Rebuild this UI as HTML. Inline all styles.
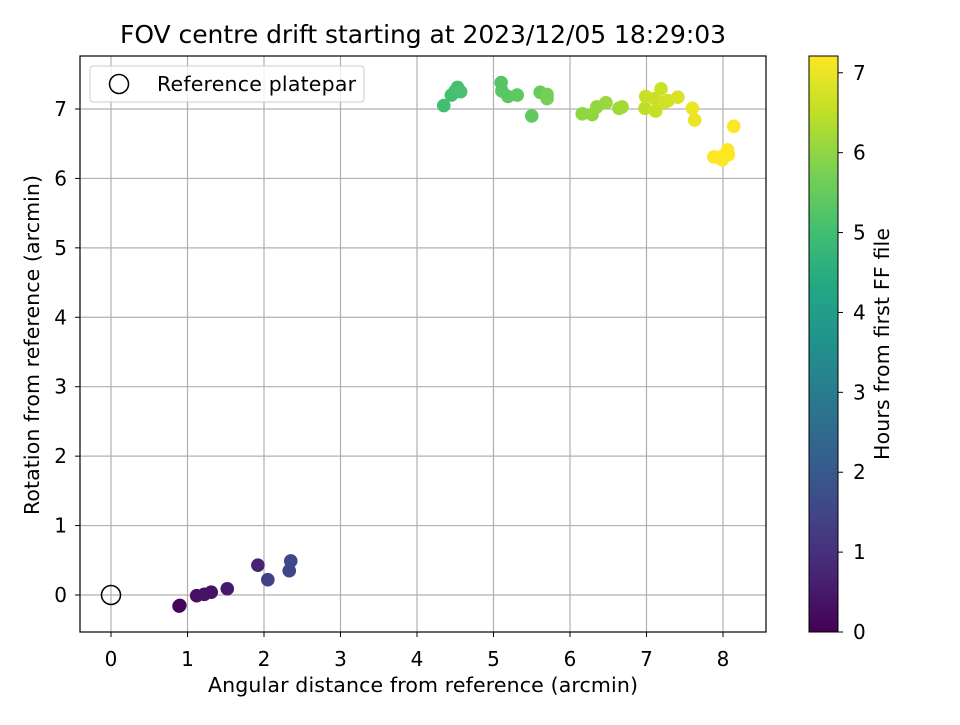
<!DOCTYPE html>
<html><head><meta charset="utf-8"><style>
body{margin:0;background:#fff;}
svg text{font-family:"DejaVu Sans","Liberation Sans",sans-serif;fill:#000;}
</style></head><body>
<svg id="c" width="960" height="720" xmlns="http://www.w3.org/2000/svg">
<defs>
<linearGradient id="vir" x1="0" y1="1" x2="0" y2="0">
<stop offset="0" stop-color="#440154"/><stop offset="0.1" stop-color="#482475"/><stop offset="0.2" stop-color="#414487"/><stop offset="0.3" stop-color="#355f8d"/><stop offset="0.4" stop-color="#2a788e"/><stop offset="0.5" stop-color="#21918c"/><stop offset="0.6" stop-color="#22a884"/><stop offset="0.7" stop-color="#44bf70"/><stop offset="0.8" stop-color="#7ad151"/><stop offset="0.9" stop-color="#bddf26"/><stop offset="1" stop-color="#fde725"/>
</linearGradient>
</defs>
<text x="423" y="43" font-size="25" text-anchor="middle" textLength="606">FOV centre drift starting at 2023/12/05 18:29:03</text>
<g id="grid"></g>
<g id="pts"></g>
<rect x="80" y="56" width="686" height="576" fill="none" stroke="#000" stroke-width="1.2"/>
<g id="ticks"></g>
<text x="423" y="692" font-size="20.5" text-anchor="middle" textLength="430">Angular distance from reference (arcmin)</text>
<text transform="translate(39,345) rotate(-90)" font-size="20.5" text-anchor="middle" textLength="340">Rotation from reference (arcmin)</text>
<g>
<rect x="90" y="66" width="274" height="36" rx="3" fill="#fff" fill-opacity="0.8" stroke="#ccc"/>
<circle cx="119" cy="84" r="9.5" fill="none" stroke="#000" stroke-width="1.5"/>
<text x="157" y="91" font-size="20.5" textLength="199">Reference platepar</text>
</g>
<rect x="809" y="56" width="29" height="576" fill="url(#vir)" stroke="#000" stroke-width="1"/>
<g id="cticks"></g>
<text transform="translate(889,344) rotate(-90)" font-size="20.5" text-anchor="middle" textLength="232">Hours from first FF file</text>
</svg>
<script>
const xVals=[0.89,0.90,1.12,1.22,1.31,1.52,1.92,2.05,2.33,2.35,4.35,4.45,4.50,4.53,4.57,5.10,5.11,5.19,5.31,5.50,5.61,5.70,5.70,6.16,6.29,6.35,6.47,6.64,6.68,6.98,6.99,7.11,7.12,7.19,7.24,7.28,7.41,7.60,7.63,8.14,7.88,7.99,8.07,8.06,7.97];
const yVals=[-0.16,-0.15,-0.01,0.01,0.04,0.09,0.43,0.22,0.35,0.49,7.05,7.20,7.26,7.31,7.25,7.38,7.26,7.18,7.20,6.90,7.24,7.21,7.15,6.93,6.92,7.03,7.09,7.01,7.03,7.01,7.18,7.15,6.97,7.29,7.10,7.12,7.17,7.01,6.84,6.75,6.31,6.27,6.34,6.41,6.31];
const hours=[0.05,0.1,0.3,0.35,0.4,0.5,0.7,1.4,1.5,1.6,5.0,5.0,5.05,5.05,5.1,5.3,5.3,5.35,5.4,5.45,5.5,5.7,5.7,6.0,6.0,6.05,6.1,6.15,6.2,6.5,6.6,6.6,6.6,6.65,6.7,6.7,6.8,7.0,7.0,7.2,7.2,7.2,7.2,7.2,7.2];
const xTicks=[0,1,2,3,4,5,6,7,8];
const yTicks=[0,1,2,3,4,5,6,7];
const cTicks=[0,1,2,3,4,5,6,7];
const NS="http://www.w3.org/2000/svg";
const xs=v=>111+(v)*76.5, ys=v=>595-v*69.43, cs=v=>632-v*(576/7.21);
const vir=["#440154","#482475","#414487","#355f8d","#2a788e","#21918c","#22a884","#44bf70","#7ad151","#bddf26","#fde725"];
function hex(h){return [1,3,5].map(i=>parseInt(h.substr(i,2),16));}
function col(t){let f=Math.max(0,Math.min(1,t/7.21))*10,i=Math.min(9,Math.floor(f)),r=f-i,a=hex(vir[i]),b=hex(vir[i+1]);return "rgb("+a.map((v,k)=>Math.round(v+(b[k]-v)*r)).join(",")+")";}
function mk(t,at,p){const e=document.createElementNS(NS,t);for(const k in at)e.setAttribute(k,at[k]);p.appendChild(e);return e;}
const g=document.getElementById('grid'),tk=document.getElementById('ticks'),pts=document.getElementById('pts'),ct=document.getElementById('cticks');
xTicks.forEach(v=>{const x=xs(v);
 const l=mk('line',{x1:x,x2:x,y1:56,y2:632,stroke:'#b0b0b0','stroke-width':1.2},g);
 
 
 mk('line',{x1:x,x2:x,y1:632,y2:637,stroke:'#000'},tk);
 const t=mk('text',{x:x,y:666,'font-size':20,'text-anchor':'middle'},tk);t.textContent=v;
 
 });
yTicks.forEach(v=>{const y=ys(v);
 const l=mk('line',{x1:80,x2:766,y1:y,y2:y,stroke:'#b0b0b0','stroke-width':1.2},g);
 
 
 mk('line',{x1:75,x2:80,y1:y,y2:y,stroke:'#000'},tk);
 const t=mk('text',{x:67,y:y+7,'font-size':20,'text-anchor':'end'},tk);t.textContent=v;
 
 });
cTicks.forEach(v=>{const y=cs(v);
 mk('line',{x1:838,x2:843,y1:y,y2:y,stroke:'#000'},ct);
 const t=mk('text',{x:853,y:y+7,'font-size':20},ct);t.textContent=v;
 
 });
xVals.forEach((v,i)=>{const c=mk('circle',{cx:xs(v),cy:ys(yVals[i]),r:6.8,fill:col(hours[i])},pts);
 
 });
const ref=mk('circle',{cx:xs(0),cy:ys(0),r:9.5,fill:'none',stroke:'#000','stroke-width':1.5},pts);


</script>
</body></html>
